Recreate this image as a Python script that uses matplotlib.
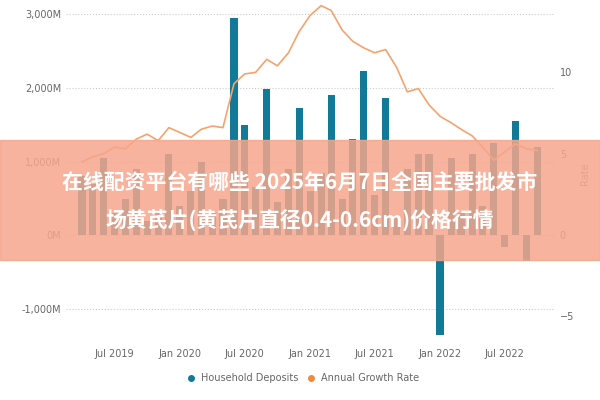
import matplotlib.pyplot as plt
import matplotlib.dates as mdates
import pandas as pd

# monthly data, Apr 2019 - Oct 2022
months = pd.date_range("2019-04-01", "2022-10-01", freq="MS")
deposits = [800, 700, 1050, 300, 500, 900, 200, 350, 1100, 400, 600, 1000, 300, 500,
            2950, 1500, 650, 1980, 450, 900, 1720, 600, 850, 1900, 500, 1300, 2230, 550,
            1860, 250, 900, 1100, 1100, -1350, 1050, 300, 1100, 400, 1250, -150, 1550,
            -350, 1200]
growth = [4.5, 4.8, 5.0, 5.4, 5.3, 5.9, 6.2, 5.8, 6.6, 6.3, 6.0, 6.5, 6.7, 6.6, 9.3,
          9.9, 10.0, 10.8, 10.4, 11.2, 12.5, 13.5, 14.1, 13.8, 12.6, 11.9, 11.5, 11.2,
          11.4, 10.3, 8.8, 9.0, 8.0, 7.3, 6.9, 6.5, 6.1, 5.4, 4.6, 5.1, 5.6, 5.3, 5.2]
title_lines = ["在线配资平台有哪些 2025年6月7日全国主要批发市", "场黄芪片(黄芪片直径0.4-0.6cm)价格行情"]

fig = plt.figure(figsize=(6, 4), dpi=100)
ax = fig.add_axes([0.11, 0.14, 0.815, 0.85])
ax2 = ax.twinx()

ax.bar(months, deposits, width=20, color="#117A98", zorder=2)
ax2.plot(months, growth, color="#F5A36E", lw=1.2)

ax.set_ylim(-1470, 3135)
ax2.set_ylim(-6.7, 14.2)
ax.set_yticks([-1000, 0, 1000, 2000, 3000])
ax.set_yticklabels(["-1,000M", "0M", "1,000M", "2,000M", "3,000M"])
ax2.set_yticks([-5, 0, 5, 10])
ax2.set_ylabel("Rate", color="#888888", fontsize=7)
ax.grid(axis="y", ls=":", color="#cccccc", zorder=0)
ax.set_xlim(pd.Timestamp("2019-02-15"), pd.Timestamp("2022-11-20"))
ax.xaxis.set_major_locator(mdates.MonthLocator(bymonth=[1, 7]))
ax.xaxis.set_major_formatter(mdates.DateFormatter("%b %Y"))
for a in (ax, ax2):
    a.tick_params(length=0, labelsize=7, colors="#666666")
    for s in a.spines.values():
        s.set_visible(False)

fig.legend(handles=[plt.Line2D([], [], marker="o", ls="", color="#117A98", ms=4),
                    plt.Line2D([], [], marker="o", ls="", color="#F28A3C", ms=4)],
           labels=["Household Deposits", "Annual Growth Rate"], loc="lower center",
           bbox_to_anchor=(0.5, 0.02), ncol=2, frameon=False, fontsize=7,
           handletextpad=0, columnspacing=0.3, labelcolor="#666666")

# overlay banner
fig.patches.append(plt.Rectangle((0, 0.35), 1, 0.3, transform=fig.transFigure,
                                 color="#F6A68C", alpha=0.85, zorder=5))
fig.text(0.5, 0.545, title_lines[0], ha="center", va="center", color="white",
         fontsize=15, fontweight="bold", family="Noto Sans CJK SC", zorder=6)
fig.text(0.5, 0.45, title_lines[1], ha="center", va="center", color="white",
         fontsize=15, fontweight="bold", family="Noto Sans CJK SC", zorder=6)

fig.savefig("out.png")
